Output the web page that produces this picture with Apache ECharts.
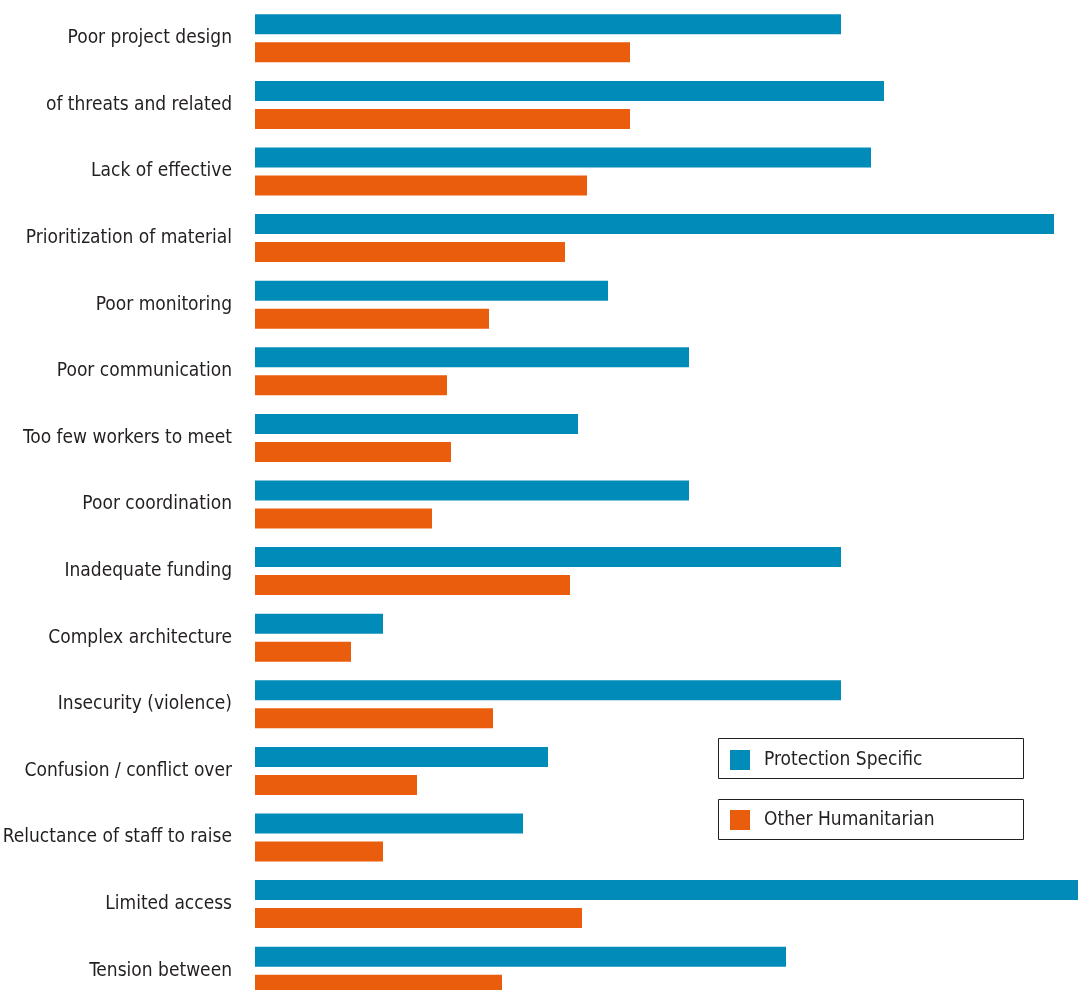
<!DOCTYPE html>
<html>
<head>
<meta charset="utf-8">
<script src="https://cdn.jsdelivr.net/npm/echarts@6/dist/echarts.min.js"></script>
<style>
html,body{margin:0;padding:0;background:#fff;}
#chart{width:1078px;height:990px;}
</style>
</head>
<body>
<div id="chart"></div>
<script>
var categories = [
  'Poor project design',
  'of threats and related',
  'Lack of effective',
  'Prioritization of material',
  'Poor monitoring',
  'Poor communication',
  'Too few workers to meet',
  'Poor coordination',
  'Inadequate funding',
  'Complex architecture',
  'Insecurity (violence)',
  'Confusion / conflict over',
  'Reluctance of staff to raise',
  'Limited access',
  'Tension between'
];
var protectionSpecific = [58.6, 62.9, 61.6, 79.9, 35.3, 43.4, 32.3, 43.4, 58.6, 12.8, 58.6, 29.3, 26.8, 82.3, 53.1];
var otherHumanitarian  = [37.5, 37.5, 33.2, 31.0, 23.4, 19.2, 19.6, 17.7, 31.5, 9.6, 23.8, 16.2, 12.8, 32.7, 24.7];
var seriesNames = ['Protection Specific', 'Other Humanitarian'];

var FONT = '"DejaVu Sans Condensed", "Liberation Sans Narrow", sans-serif';
var chart = echarts.init(document.getElementById('chart'));
chart.setOption({
  animation: false,
  grid: { left: 255, top: 5, width: 823, height: 999, containLabel: false, outerBoundsMode: 'none' },
  xAxis: {
    type: 'value', min: 0, max: 82.3, show: false
  },
  yAxis: {
    type: 'category', data: categories, inverse: true,
    axisLine: { show: false }, axisTick: { show: false },
    axisLabel: { margin: 23, fontSize: 19, color: '#231f20', fontFamily: FONT, padding: [4,0,0,0] }
  },
  legend: [
    { data: [seriesNames[0]], left: 730, top: 750, itemWidth: 20, itemHeight: 20, icon: 'rect',
      textStyle: { fontSize: 19, color: '#231f20', fontFamily: FONT, padding: [6,0,0,9] }, padding: 0 },
    { data: [seriesNames[1]], left: 730, top: 810, itemWidth: 20, itemHeight: 20, icon: 'rect',
      textStyle: { fontSize: 19, color: '#231f20', fontFamily: FONT, padding: [6,0,0,9] }, padding: 0 }
  ],
  graphic: [
    { type: 'rect', shape: { x: 718.5, y: 738.5, width: 305, height: 40 }, style: { fill: 'none', stroke: '#231f20', lineWidth: 1 } },
    { type: 'rect', shape: { x: 718.5, y: 799.5, width: 305, height: 40 }, style: { fill: 'none', stroke: '#231f20', lineWidth: 1 } }
  ],
  series: [
    { name: seriesNames[0], type: 'bar', data: protectionSpecific, barWidth: 20, barGap: '40%',
      itemStyle: { color: '#008bb8' } },
    { name: seriesNames[1], type: 'bar', data: otherHumanitarian, barWidth: 20, barGap: '40%',
      itemStyle: { color: '#ea5d0c' } }
  ]
});
</script>
</body>
</html>
